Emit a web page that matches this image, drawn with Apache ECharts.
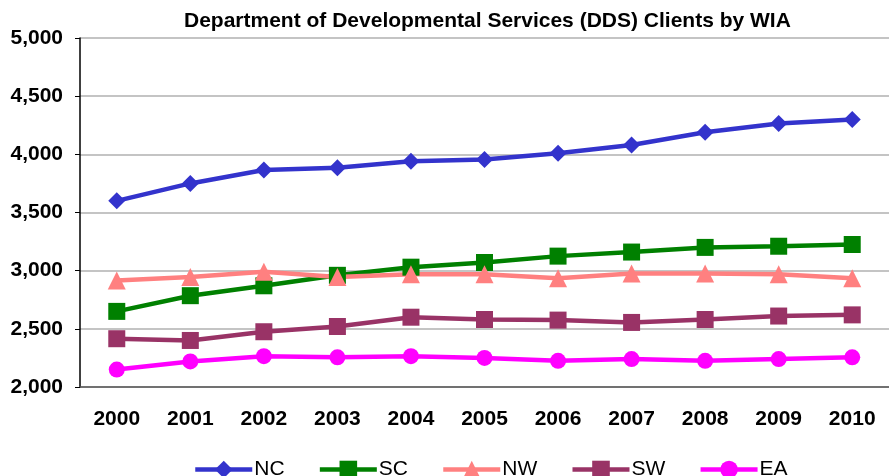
<!DOCTYPE html>
<html><head><meta charset="utf-8">
<script src="https://cdn.jsdelivr.net/npm/echarts@6/dist/echarts.min.js"></script>
<style>html,body{margin:0;padding:0;background:#fff}#c{width:889px;height:476px}</style>
</head><body><div id="c"></div>
<script>
const years = ['2000','2001','2002','2003','2004','2005','2006','2007','2008','2009','2010'];
const NC = [3600,3750,3865,3885,3940,3955,4010,4080,4190,4265,4300];
const SC = [2650,2785,2870,2960,3030,3070,3125,3160,3200,3210,3225];
const NW = [2915,2945,2990,2945,2970,2970,2935,2975,2975,2970,2935];
const SW = [2415,2400,2475,2520,2600,2580,2575,2555,2580,2610,2620];
const EA = [2150,2220,2265,2255,2265,2250,2225,2240,2225,2240,2255];
const yTicks = [2000,2500,3000,3500,4000,4500,5000];

const font = '"Liberation Sans", Arial, Helvetica, sans-serif';
function s(name, data, color, symbol, size) {
  return {name, type:'line', data, symbol, symbolSize:size, showSymbol:true,
    lineStyle:{color, width:4.5}, itemStyle:{color}, z:2};
}
const chart = echarts.init(document.getElementById('c'), null, {renderer:'canvas'});
chart.setOption({
  animation:false,
  backgroundColor:'#fff',
  title:{text:'Department of Developmental Services (DDS) Clients by WIA', left:179, top:6,
    textStyle:{fontFamily:font, fontWeight:'bold', fontSize:21, color:'#000'}},
  grid:{left:80, top:38, width:815, height:349},
  xAxis:{type:'category', data:years, boundaryGap:true,
    axisLine:{lineStyle:{color:'#555', width:1.5}}, axisTick:{show:false},
    axisLabel:{fontFamily:font, fontWeight:'bold', fontSize:21, color:'#000', margin:22}},
  yAxis:{type:'value', min:yTicks[0], max:yTicks[yTicks.length-1], interval:500,
    axisLine:{show:true, lineStyle:{color:'#000', width:1.5}},
    axisTick:{show:true, length:5, lineStyle:{color:'#000'}},
    splitLine:{lineStyle:{color:'#b0b0b0', width:1.5}},
    axisLabel:{fontFamily:font, fontWeight:'bold', fontSize:21, color:'#000', margin:17,
      formatter:v=>v.toLocaleString('en-US')}},
  legend:{left:188, top:454, itemWidth:57, itemHeight:22, itemGap:33,
    lineStyle:{width:4.5},
    textStyle:{fontFamily:font, fontSize:21, color:'#000', padding:[0,0,0,-3]},
    data:['NC','SC','NW','SW','EA']},
  series:[
    s('NC', NC, '#3333CC', 'diamond', 17),
    s('SC', SC, '#008000', 'rect', 17),
    s('NW', NW, '#FF8080', 'triangle', 18),
    s('SW', SW, '#993366', 'rect', 17),
    s('EA', EA, '#FF00FF', 'circle', 16)
  ]
});
</script></body></html>
